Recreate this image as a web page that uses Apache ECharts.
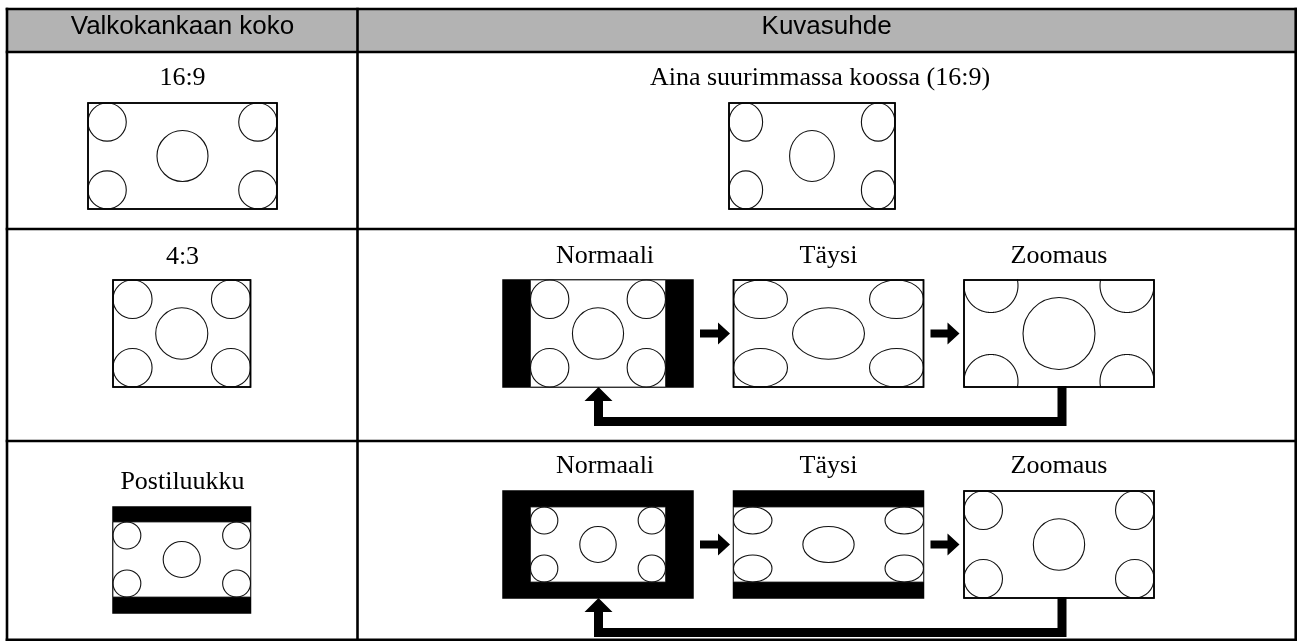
<!DOCTYPE html>
<html>
<head>
<meta charset="utf-8">
<script src="https://cdn.jsdelivr.net/npm/echarts@6/dist/echarts.min.js"></script>
<style>
html,body{margin:0;padding:0;background:#fff;}
#c{width:1297px;height:641px;}
</style>
</head>
<body>
<div id="c"></div>
<script>
// ---- content ----
const headerLabels = ['Valkokankaan koko', 'Kuvasuhde'];
const screenLabels = ['16:9', '4:3', 'Postiluukku'];
const modeLabels = ['Normaali', 'Täysi', 'Zoomaus'];
const fixedModeLabel = 'Aina suurimmassa koossa (16:9)';
// aspect ratio (width / height) of the source picture shown in each row
const rowSourceAspects = [16 / 9, 1.267, 16 / 9];

// ---- layout (drawing space = 1297 x 641 units) ----
const W = 1297, H = 641;
const T = { left: 7, right: 1295.7, top: 9, header: 52, rows: [229, 441, 639.7], split: 357.5, line: 2.6 };
const leftCx = 182.5;
const rightCx = (T.split + T.right) / 2;
const modeCx = [598, 828.5, 1059];
const modeHalfW = 95;
const SERIF = '26px "Liberation Serif", "Times New Roman", serif';
const SANS = '26px "Liberation Sans", Arial, sans-serif';

function buildItems() {
  const items = [];
  items.push({ kind: 'table' });
  items.push({ kind: 'text', text: headerLabels[0], x: leftCx, y: 27, font: SANS });
  items.push({ kind: 'text', text: headerLabels[1], x: rightCx, y: 27, font: SANS });

  // row 1 : 16:9 screen
  items.push({ kind: 'text', text: screenLabels[0], x: leftCx, y: 78.5, font: SERIF });
  items.push({ kind: 'pic', frame: [88, 103, 277, 209], content: [88, 103, 277, 209], aspect: rowSourceAspects[0], black: false });
  items.push({ kind: 'text', text: fixedModeLabel, x: 820, y: 78.5, font: SERIF });
  items.push({ kind: 'pic', frame: [729, 103, 895, 209], content: [729, 103, 895, 209], aspect: rowSourceAspects[0], black: false });

  // row 2 : 4:3 source
  const r2 = { top: 280, bot: 387 };
  items.push({ kind: 'text', text: screenLabels[1], x: leftCx, y: 257, font: SERIF });
  items.push({ kind: 'pic', frame: [113, r2.top, 250.5, r2.bot], content: [113, r2.top, 250.5, r2.bot], aspect: rowSourceAspects[1], black: false });
  const f2 = modeCx.map(c => [c - modeHalfW, r2.top, c + modeHalfW, r2.bot]);
  const mid2 = (r2.top + r2.bot) / 2;
  modeLabels.forEach((m, i) => items.push({ kind: 'text', text: m, x: modeCx[i] + (i === 0 ? 7 : 0), y: 256, font: SERIF }));
  items.push({ kind: 'pic', frame: f2[0], content: [modeCx[0] - 67.5, r2.top, modeCx[0] + 67.5, r2.bot], aspect: rowSourceAspects[1], black: true });
  items.push({ kind: 'pic', frame: f2[1], content: f2[1], aspect: rowSourceAspects[1], black: false });
  const zh2 = (2 * modeHalfW) / rowSourceAspects[1];
  items.push({ kind: 'pic', frame: f2[2], content: [f2[2][0], mid2 - zh2 / 2, f2[2][2], mid2 + zh2 / 2], aspect: rowSourceAspects[1], black: false });
  items.push({ kind: 'arrow', x0: f2[0][2] + 7, x1: f2[1][0] - 3.5, y: mid2 });
  items.push({ kind: 'arrow', x0: f2[1][2] + 7, x1: f2[2][0] - 4.5, y: mid2 });
  items.push({ kind: 'ret', cx: modeCx[0] + 0.5, rx: modeCx[2] + 3, fb: r2.bot });

  // row 3 : letterbox source
  const r3 = { top: 491, bot: 598 };
  items.push({ kind: 'text', text: screenLabels[2], x: leftCx, y: 482.5, font: SERIF });
  items.push({ kind: 'pic', frame: [113, 507, 250.5, 613], content: [113, 522, 250.5, 597], aspect: rowSourceAspects[2], black: true });
  const f3 = modeCx.map(c => [c - modeHalfW, r3.top, c + modeHalfW, r3.bot]);
  const mid3 = (r3.top + r3.bot) / 2;
  const bandH = 75;
  modeLabels.forEach((m, i) => items.push({ kind: 'text', text: m, x: modeCx[i] + (i === 0 ? 7 : 0), y: 466, font: SERIF }));
  items.push({ kind: 'pic', frame: f3[0], content: [modeCx[0] - 67.5, mid3 - bandH / 2, modeCx[0] + 67.5, mid3 + bandH / 2], aspect: rowSourceAspects[2], black: true });
  items.push({ kind: 'pic', frame: f3[1], content: [f3[1][0], mid3 - bandH / 2, f3[1][2], mid3 + bandH / 2], aspect: rowSourceAspects[2], black: true });
  items.push({ kind: 'pic', frame: f3[2], content: f3[2], aspect: rowSourceAspects[2], black: false });
  items.push({ kind: 'arrow', x0: f3[0][2] + 7, x1: f3[1][0] - 3.5, y: mid3 });
  items.push({ kind: 'arrow', x0: f3[1][2] + 7, x1: f3[2][0] - 4.5, y: mid3 });
  items.push({ kind: 'ret', cx: modeCx[0] + 0.5, rx: modeCx[2] + 3, fb: r3.bot });
  return items;
}
const items = buildItems();

function renderItem(params, api) {
  const spec = items[params.dataIndex];
  const P = (x, y) => api.coord([x, y]);
  const ch = [];
  const rect = (b, style) => {
    const a = P(b[0], b[1]), c = P(b[2], b[3]);
    ch.push({ type: 'rect', shape: { x: a[0], y: a[1], width: c[0] - a[0], height: c[1] - a[1] }, style });
  };
  const line = (x0, y0, x1, y1, style) => {
    const a = P(x0, y0), b = P(x1, y1);
    ch.push({ type: 'line', shape: { x1: a[0], y1: a[1], x2: b[0], y2: b[1] }, style });
  };
  const poly = (pts, style) => ch.push({ type: 'polygon', shape: { points: pts.map(p => P(p[0], p[1])) }, style });
  const circleStyle = { fill: 'none', stroke: '#111', lineWidth: 1.1 };

  const ellipse = (cx, cy, rx, ry, clip) => {
    const eps = 0.6;
    if (cx - rx >= clip[0] - eps && cx + rx <= clip[2] + eps && cy - ry >= clip[1] - eps && cy + ry <= clip[3] + eps) {
      const c = P(cx, cy), e = P(cx + rx, cy + ry);
      ch.push({ type: 'ellipse', shape: { cx: c[0], cy: c[1], rx: e[0] - c[0], ry: e[1] - c[1] }, style: circleStyle });
      return;
    }
    const N = 360, pts = [];
    for (let i = 0; i < N; i++) {
      const t = (i / N) * Math.PI * 2;
      const x = cx + rx * Math.cos(t), y = cy + ry * Math.sin(t);
      pts.push({ x, y, in: x >= clip[0] - eps && x <= clip[2] + eps && y >= clip[1] - eps && y <= clip[3] + eps });
    }
    const s = pts.findIndex(p => !p.in);
    let run = [];
    for (let k = 0; k <= N; k++) {
      const p = pts[(s + k) % N];
      if (p.in) run.push(P(p.x, p.y));
      else if (run.length) { ch.push({ type: 'polyline', shape: { points: run }, style: circleStyle }); run = []; }
    }
    if (run.length) ch.push({ type: 'polyline', shape: { points: run }, style: circleStyle });
  };

  if (spec.kind === 'table') {
    rect([T.left, T.top, T.right, T.header], { fill: '#b3b3b3' });
    const ls = { stroke: '#000', lineWidth: T.line };
    const h = T.line / 2;
    [T.top, T.header, T.rows[0], T.rows[1], T.rows[2]].forEach(y => line(T.left - h, y, T.right + h, y, ls));
    [T.left, T.split, T.right].forEach(x => line(x, T.top - h, x, T.rows[2] + h, ls));
  } else if (spec.kind === 'text') {
    const p = P(spec.x, spec.y);
    ch.push({ type: 'text', style: { text: spec.text, x: p[0], y: p[1], font: spec.font, fill: '#000', align: 'center', verticalAlign: 'middle' } });
  } else if (spec.kind === 'pic') {
    const f = spec.frame, c = spec.content;
    rect(f, { fill: spec.black ? '#000' : '#fff', stroke: '#000', lineWidth: 1.5 });
    const clip = [Math.max(f[0], c[0]), Math.max(f[1], c[1]), Math.min(f[2], c[2]), Math.min(f[3], c[3])];
    if (spec.black) rect(clip, { fill: '#fff', stroke: '#222', lineWidth: 0.8 });
    const cw = c[2] - c[0], chh = c[3] - c[1];
    const sx = cw / spec.aspect, sy = chh;
    const rc = 0.18, rm = 0.24;
    const rxc = rc * sx, ryc = rc * sy;
    ellipse(c[0] + rxc, c[1] + ryc, rxc, ryc, clip);
    ellipse(c[2] - rxc, c[1] + ryc, rxc, ryc, clip);
    ellipse(c[0] + rxc, c[3] - ryc, rxc, ryc, clip);
    ellipse(c[2] - rxc, c[3] - ryc, rxc, ryc, clip);
    ellipse((c[0] + c[2]) / 2, (c[1] + c[3]) / 2, rm * sx, rm * sy, clip);
    if (!spec.black) rect(f, { fill: 'none', stroke: '#000', lineWidth: 1.5 });
  } else if (spec.kind === 'arrow') {
    const { x0, x1, y } = spec, xh = x1 - 12;
    poly([[x0, y - 4], [xh, y - 4], [xh, y - 11], [x1, y], [xh, y + 11], [xh, y + 4], [x0, y + 4]], { fill: '#000' });
  } else if (spec.kind === 'ret') {
    const { cx, rx, fb } = spec, hw = 4.5;
    poly([[cx, fb], [cx + 14, fb + 14], [cx + hw, fb + 14], [cx + hw, fb + 30], [rx - hw, fb + 30], [rx - hw, fb - 1],
          [rx + hw, fb - 1], [rx + hw, fb + 39], [cx - hw, fb + 39], [cx - hw, fb + 14], [cx - 14, fb + 14]], { fill: '#000' });
  }
  return { type: 'group', children: ch };
}

const chart = echarts.init(document.getElementById('c'), null, { renderer: 'canvas' });
chart.setOption({
  animation: false,
  backgroundColor: '#fff',
  grid: { left: 0, right: 0, top: 0, bottom: 0 },
  xAxis: { type: 'value', min: 0, max: W, show: false },
  yAxis: { type: 'value', min: 0, max: H, inverse: true, show: false },
  series: [{
    type: 'custom',
    coordinateSystem: 'cartesian2d',
    clip: false,
    silent: true,
    data: items.map((d, i) => [i, 0]),
    renderItem: renderItem
  }]
});
</script>
</body>
</html>
